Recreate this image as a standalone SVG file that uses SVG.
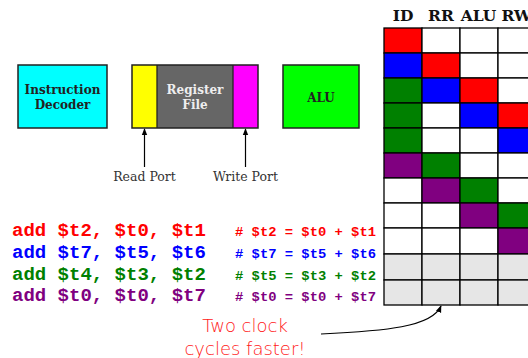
<svg xmlns="http://www.w3.org/2000/svg" width="528" height="358" viewBox="0 0 528 358">
<defs>
<marker id="ah" viewBox="0 0 10 10" refX="9" refY="5" markerWidth="7" markerHeight="7" orient="auto-start-reverse" markerUnits="userSpaceOnUse"><path d="M0,1 L10,5 L0,9 Z" fill="#000"/></marker>
<style>
.box{stroke:#222;stroke-width:1.5}
.lbl{font-family:"DejaVu Serif",serif;font-weight:bold;font-size:12px;text-anchor:middle}
.port{font-family:"DejaVu Serif",serif;font-size:12.5px;fill:#333;text-anchor:middle}
.hdr{font-family:"DejaVu Serif",serif;font-weight:bold;font-size:15.5px;text-anchor:middle;fill:#111}
.code{font-family:"Liberation Mono","Courier New",monospace;font-weight:bold;font-size:19px}
.cmt{font-family:"Liberation Mono","Courier New",monospace;font-weight:bold;font-size:13.5px}
.cell{stroke:#000;stroke-width:1.3}
.hand{font-family:"DejaVu Sans",sans-serif;font-weight:300;font-size:18px;fill:#ff2020;text-anchor:middle}
</style>
</defs>
<rect width="528" height="358" fill="#fff"/>
<g id="decoder">
<rect class="box" x="18" y="65" width="89" height="63" fill="#00ffff"/>
<text class="lbl" x="62.5" y="94" fill="#222">Instruction</text>
<text class="lbl" x="62.5" y="109" fill="#222">Decoder</text>
</g>
<g id="regfile">
<rect x="132" y="65" width="126" height="63" fill="#666"/>
<rect x="132" y="65" width="25" height="63" fill="#ffff00"/>
<rect x="233" y="65" width="25" height="63" fill="#ff00ff"/>
<line x1="157" y1="65" x2="157" y2="128" stroke="#222" stroke-width="1.3"/>
<line x1="233" y1="65" x2="233" y2="128" stroke="#222" stroke-width="1.3"/>
<rect class="box" x="132" y="65" width="126" height="63" fill="none"/>
<text class="lbl" x="195" y="94" fill="#eee">Register</text>
<text class="lbl" x="195" y="109" fill="#eee">File</text>
</g>
<g id="alu">
<rect class="box" x="283" y="65" width="76" height="63" fill="#00ff00"/>
<text class="lbl" x="321" y="102" fill="#222">ALU</text>
</g>
<g id="readport"><text class="port" x="144.5" y="181">Read Port</text></g>
<g id="writeport"><text class="port" x="245.5" y="181">Write Port</text></g>
<g id="connectors" fill="none" stroke="#000" stroke-width="1.2">
<line x1="144.5" y1="167" x2="144.5" y2="129" marker-end="url(#ah)"/>
<line x1="245.5" y1="167" x2="245.5" y2="129" marker-end="url(#ah)"/>
<path d="M321,334 C385,331 432,327 441,306" marker-end="url(#ah)"/>
</g>
<g id="code">
<text class="code" x="12" y="236" fill="#ff0000">add $t2, $t0, $t1</text>
<text class="code" x="12" y="258" fill="#0000ff">add $t7, $t5, $t6</text>
<text class="code" x="12" y="280" fill="#008000">add $t4, $t3, $t2</text>
<text class="code" x="12" y="301" fill="#800080">add $t0, $t0, $t7</text>
<text class="cmt" x="235" y="236" fill="#ff0000" textLength="141" lengthAdjust="spacingAndGlyphs"># $t2 = $t0 + $t1</text>
<text class="cmt" x="235" y="258" fill="#0000ff" textLength="141" lengthAdjust="spacingAndGlyphs"># $t7 = $t5 + $t6</text>
<text class="cmt" x="235" y="280" fill="#008000" textLength="141" lengthAdjust="spacingAndGlyphs"># $t5 = $t3 + $t2</text>
<text class="cmt" x="235" y="301" fill="#800080" textLength="141" lengthAdjust="spacingAndGlyphs"># $t0 = $t0 + $t7</text>
</g>
<g id="note">
<text class="hand" x="245" y="332">Two clock</text>
<text class="hand" x="245" y="355">cycles faster!</text>
</g>
<g id="pipeline">
<text class="hdr" x="403" y="21">ID</text>
<text class="hdr" x="441" y="21">RR</text>
<text class="hdr" x="478.5" y="21">ALU</text>
<text class="hdr" x="516.5" y="21">RW</text>
<g class="cell">
<rect x="384" y="28" width="38" height="25" fill="#ff0000"/><rect x="422" y="28" width="38" height="25" fill="#fff"/><rect x="460" y="28" width="38" height="25" fill="#fff"/><rect x="498" y="28" width="38" height="25" fill="#fff"/>
<rect x="384" y="53" width="38" height="25" fill="#0000ff"/><rect x="422" y="53" width="38" height="25" fill="#ff0000"/><rect x="460" y="53" width="38" height="25" fill="#fff"/><rect x="498" y="53" width="38" height="25" fill="#fff"/>
<rect x="384" y="78" width="38" height="25" fill="#008000"/><rect x="422" y="78" width="38" height="25" fill="#0000ff"/><rect x="460" y="78" width="38" height="25" fill="#ff0000"/><rect x="498" y="78" width="38" height="25" fill="#fff"/>
<rect x="384" y="103" width="38" height="25" fill="#008000"/><rect x="422" y="103" width="38" height="25" fill="#fff"/><rect x="460" y="103" width="38" height="25" fill="#0000ff"/><rect x="498" y="103" width="38" height="25" fill="#ff0000"/>
<rect x="384" y="128" width="38" height="25" fill="#008000"/><rect x="422" y="128" width="38" height="25" fill="#fff"/><rect x="460" y="128" width="38" height="25" fill="#fff"/><rect x="498" y="128" width="38" height="25" fill="#0000ff"/>
<rect x="384" y="153" width="38" height="25" fill="#800080"/><rect x="422" y="153" width="38" height="25" fill="#008000"/><rect x="460" y="153" width="38" height="25" fill="#fff"/><rect x="498" y="153" width="38" height="25" fill="#fff"/>
<rect x="384" y="178" width="38" height="25" fill="#fff"/><rect x="422" y="178" width="38" height="25" fill="#800080"/><rect x="460" y="178" width="38" height="25" fill="#008000"/><rect x="498" y="178" width="38" height="25" fill="#fff"/>
<rect x="384" y="203" width="38" height="25" fill="#fff"/><rect x="422" y="203" width="38" height="25" fill="#fff"/><rect x="460" y="203" width="38" height="25" fill="#800080"/><rect x="498" y="203" width="38" height="25" fill="#008000"/>
<rect x="384" y="228" width="38" height="26" fill="#fff"/><rect x="422" y="228" width="38" height="26" fill="#fff"/><rect x="460" y="228" width="38" height="26" fill="#fff"/><rect x="498" y="228" width="38" height="26" fill="#800080"/>
<rect x="384" y="254" width="38" height="26" fill="#e6e6e6"/><rect x="422" y="254" width="38" height="26" fill="#e6e6e6"/><rect x="460" y="254" width="38" height="26" fill="#e6e6e6"/><rect x="498" y="254" width="38" height="26" fill="#e6e6e6"/>
<rect x="384" y="280" width="38" height="25" fill="#e6e6e6"/><rect x="422" y="280" width="38" height="25" fill="#e6e6e6"/><rect x="460" y="280" width="38" height="25" fill="#e6e6e6"/><rect x="498" y="280" width="38" height="25" fill="#e6e6e6"/>
</g>
</g>
</svg>
